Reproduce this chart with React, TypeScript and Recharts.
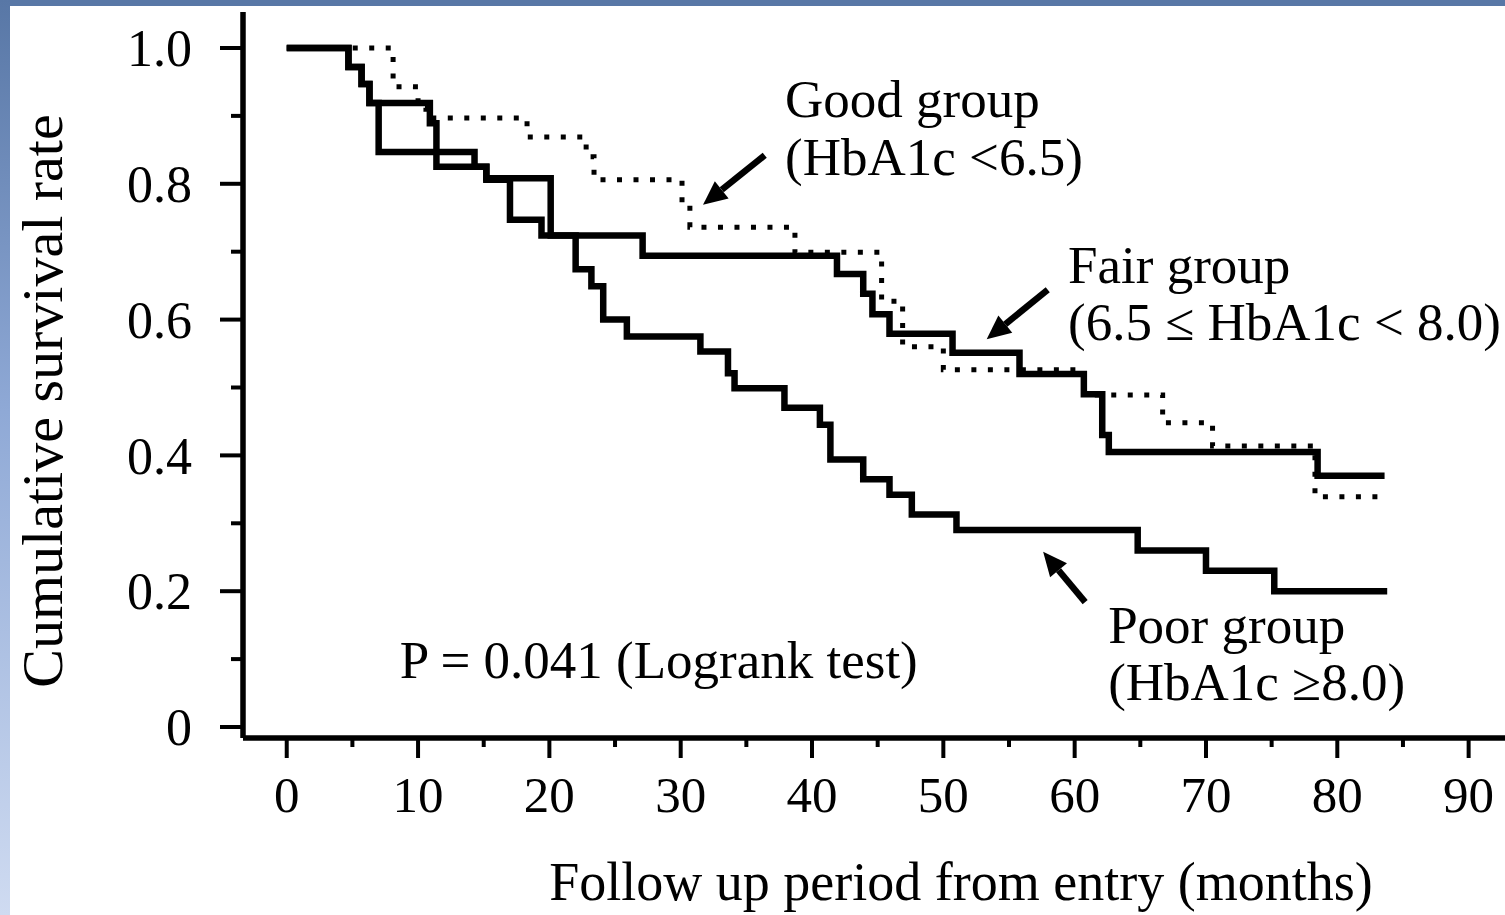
import { LineChart, Line, XAxis, YAxis, ReferenceDot, ReferenceLine } from 'recharts'

// Kaplan-Meier steps: month at which each level starts, and the level
const goodMonths = [0, 8.1, 9.8, 10.0, 10.6, 18.3, 22.8, 23.4, 30.1, 30.7, 38.7, 45.3, 46.9, 50.0, 60.7, 66.7, 70.5, 78.3, 83.1]
const goodRates = [1.0, 0.943, 0.928, 0.912, 0.897, 0.869, 0.84, 0.806, 0.77, 0.736, 0.699, 0.627, 0.56, 0.526, 0.489, 0.448, 0.414, 0.339, 0.339]

const fairMonths = [0, 4.7, 5.7, 6.3, 10.9, 11.4, 15.2, 20.1, 27.1, 41.9, 43.9, 44.6, 45.9, 50.7, 55.8, 60.7, 62.1, 62.6, 78.5, 83.6]
const fairRates = [1.0, 0.972, 0.947, 0.919, 0.889, 0.825, 0.808, 0.724, 0.694, 0.667, 0.638, 0.608, 0.579, 0.551, 0.52, 0.49, 0.43, 0.405, 0.37, 0.37]

const poorMonths = [0, 4.7, 5.7, 6.3, 7.0, 14.3, 15.2, 17.0, 19.4, 22.0, 23.2, 24.1, 25.9, 31.5, 33.6, 34.1, 37.9, 40.6, 41.4, 43.9, 45.9, 47.6, 51.0, 64.8, 70.0, 75.2, 83.8]
const poorRates = [1.0, 0.972, 0.947, 0.919, 0.847, 0.825, 0.806, 0.747, 0.724, 0.674, 0.649, 0.6, 0.575, 0.553, 0.521, 0.499, 0.47, 0.445, 0.394, 0.365, 0.342, 0.313, 0.29, 0.26, 0.23, 0.2, 0.2]

const xTicks = [0, 5, 10, 15, 20, 25, 30, 35, 40, 45, 50, 55, 60, 65, 70, 75, 80, 85, 90]
const yTicks = [0, 0.1, 0.2, 0.3, 0.4, 0.5, 0.6, 0.7, 0.8, 0.9, 1.0]

const groupNotes = [
  { month: 37.95, rate: 0.898, text: 'Good group' },
  { month: 37.95, rate: 0.813, text: '(HbA1c <6.5)' },
  { month: 59.5, rate: 0.654, text: 'Fair group' },
  { month: 59.5, rate: 0.57, text: '(6.5 \u2264 HbA1c < 8.0)' },
  { month: 62.55, rate: 0.124, text: 'Poor group' },
  { month: 62.55, rate: 0.04, text: '(HbA1c \u22658.0)' },
  { month: 8.6, rate: 0.072, text: 'P = 0.041 (Logrank test)' }
]

const arrowNotes = [
  { fromMonth: 36.4, fromRate: 0.842, toMonth: 31.7, toRate: 0.769 },
  { fromMonth: 57.95, fromRate: 0.644, toMonth: 53.3, toRate: 0.571 },
  { fromMonth: 60.8, fromRate: 0.184, toMonth: 57.6, toRate: 0.258 }
]

const FONT = '"Liberation Serif", "Times New Roman", serif'

const toSteps = (months: number[], rates: number[]) =>
  months.map((month, i) => ({ month, rate: rates[i] }))

const goodData = toSteps(goodMonths, goodRates)
const fairData = toSteps(fairMonths, fairRates)
const poorData = toSteps(poorMonths, poorRates)

function XTick({ x, y, payload }: any) {
  const v = payload.value as number
  const major = v % 10 === 0
  return (
    <g>
      <line x1={x} x2={x} y1={y} y2={y + (major ? 20 : 9)} stroke="#000" strokeWidth={4} />
      {major && (
        <text x={x} y={y + 74} textAnchor="middle" fontSize={51} fontFamily={FONT} fill="#000">
          {v}
        </text>
      )}
    </g>
  )
}

function YTick({ x, y, payload }: any) {
  const v = payload.value as number
  const major = Math.round(v * 10) % 2 === 0
  return (
    <g>
      <line x1={x - (major ? 23 : 12)} x2={x} y1={y} y2={y} stroke="#000" strokeWidth={4} />
      {major && (
        <text x={x - 51} y={y} dy="0.35em" textAnchor="end" fontSize={52} fontFamily={FONT} fill="#000">
          {v === 0 ? '0' : v.toFixed(1)}
        </text>
      )}
    </g>
  )
}

function Arrow({ x1, y1, x2, y2 }: any) {
  const len = Math.hypot(x2 - x1, y2 - y1)
  const ux = (x2 - x1) / len
  const uy = (y2 - y1) / len
  const head = 24
  const half = 11
  const bx = x2 - ux * head
  const by = y2 - uy * head
  return (
    <g>
      <line x1={x1} y1={y1} x2={bx} y2={by} stroke="#000" strokeWidth={6.5} />
      <polygon
        points={`${x2},${y2} ${bx - uy * half},${by + ux * half} ${bx + uy * half},${by - ux * half}`}
        fill="#000"
      />
    </g>
  )
}

export default function App() {
  return (
    <div style={{ position: 'absolute', left: 0, top: 0, width: 1505, height: 915, background: '#fff', overflow: 'hidden' }}>
      <LineChart width={1505} height={915} margin={{ top: 12, right: 0, left: 0, bottom: 0 }}>
        <XAxis
          type="number"
          dataKey="month"
          domain={[-3.33, 92.77]}
          allowDataOverflow
          ticks={xTicks}
          interval={0}
          tickSize={0}
          tickMargin={0}
          tickLine={false}
          tick={(p: any) => <XTick {...p} />}
          axisLine={{ stroke: '#000', strokeWidth: 5.5 }}
          height={177}
        />
        <YAxis
          type="number"
          domain={[-0.0162, 1.053]}
          allowDataOverflow
          ticks={yTicks}
          interval={0}
          tickSize={0}
          tickMargin={0}
          tickLine={false}
          tick={(p: any) => <YTick {...p} />}
          axisLine={{ stroke: '#000', strokeWidth: 5.5 }}
          width={243}
        />
        <Line data={fairData} dataKey="rate" type="stepAfter" stroke="#000" strokeWidth={6.5} dot={false} activeDot={false} isAnimationActive={false} />
        <Line data={poorData} dataKey="rate" type="stepAfter" stroke="#000" strokeWidth={6.5} dot={false} activeDot={false} isAnimationActive={false} />
        <Line data={goodData} dataKey="rate" type="stepAfter" stroke="#000" strokeWidth={5} strokeDasharray="5 11.5" dot={false} activeDot={false} isAnimationActive={false} />
        {arrowNotes.map((a, i) => (
          <ReferenceLine
            key={`arrow-${i}`}
            segment={[{ x: a.fromMonth, y: a.fromRate }, { x: a.toMonth, y: a.toRate }]}
            ifOverflow="visible"
            shape={(p: any) => <Arrow {...p} />}
          />
        ))}
        {groupNotes.map((n, i) => (
          <ReferenceDot
            key={`note-${i}`}
            x={n.month}
            y={n.rate}
            r={0}
            ifOverflow="visible"
            shape={(p: any) => (
              <text x={p.cx} y={p.cy} fontSize={53} fontFamily={FONT} fill="#000">
                {n.text}
              </text>
            )}
          />
        ))}
      </LineChart>
      <svg width={1505} height={915} style={{ position: 'absolute', left: 0, top: 0, pointerEvents: 'none' }}>
        <text x={961} y={900} textAnchor="middle" fontSize={54} fontFamily={FONT} fill="#000">
          Follow up period from entry (months)
        </text>
        <text x={62} y={401} transform="rotate(-90 62 401)" textAnchor="middle" fontSize={58} fontFamily={FONT} fill="#000">
          Cumulative survival rate
        </text>
      </svg>
      <div style={{ position: 'absolute', left: 0, top: 0, width: 1505, height: 6, background: '#5877a6' }} />
      <div style={{ position: 'absolute', left: 0, top: 0, width: 10, height: 915, background: 'linear-gradient(#5877a6, #8fa9d6 45%, #cfdbf1)' }} />
    </div>
  )
}
